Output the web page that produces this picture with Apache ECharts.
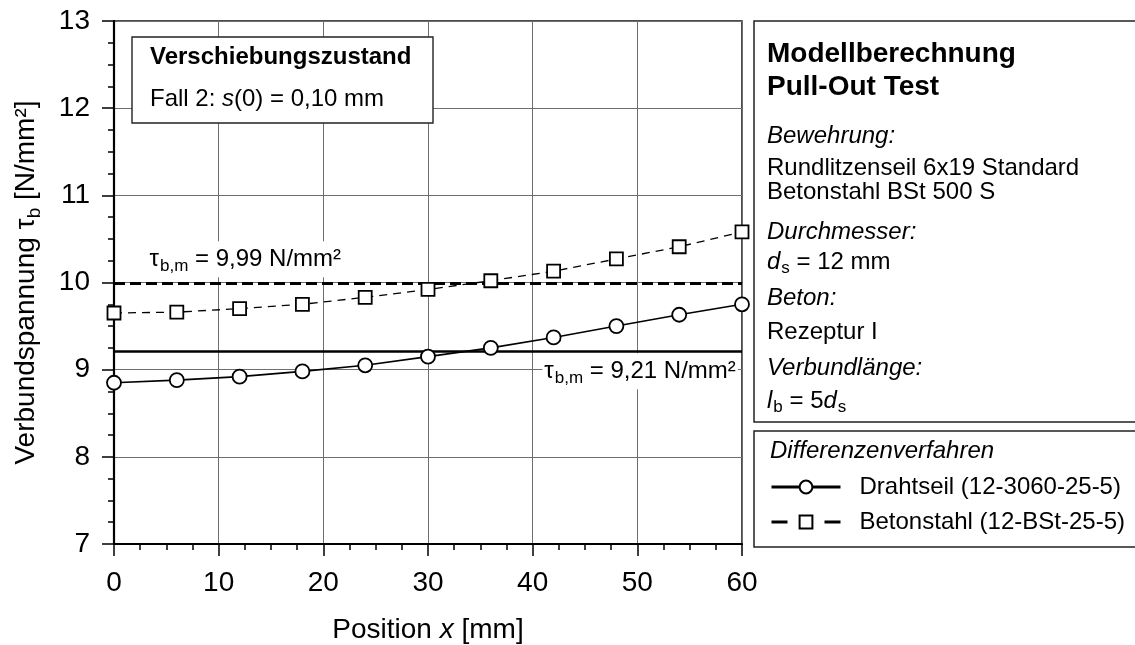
<!DOCTYPE html>
<html>
<head>
<meta charset="utf-8">
<script src="https://cdn.jsdelivr.net/npm/echarts@6/dist/echarts.min.js"></script>
<style>
  html, body { margin: 0; padding: 0; background: #fff; }
  #chart { width: 1135px; height: 645px; }
</style>
</head>
<body>
<div id="chart"></div>
<script>
// Bond stress along the embedded length (finite-difference model)
const positions  = [0, 6, 12, 18, 24, 30, 36, 42, 48, 54, 60];
const drahtseil  = [8.85, 8.88, 8.92, 8.98, 9.05, 9.15, 9.25, 9.37, 9.50, 9.63, 9.75];
const betonstahl = [9.65, 9.66, 9.70, 9.75, 9.83, 9.92, 10.02, 10.13, 10.27, 10.41, 10.58];

// Mean bond stress of each series
const meanDrahtseil  = 9.21;
const meanBetonstahl = 9.99;

// Series names
const nameDraht = 'Drahtseil (12-3060-25-5)';
const nameBeton = 'Betonstahl (12-BSt-25-5)';

const FONT = '"Liberation Sans", Arial, Helvetica, sans-serif';
const fmt = v => v.toFixed(2).replace('.', ',');
const pairs = ys => positions.map((x, i) => [x, ys[i]]);

const subRich = {
  sub: { fontFamily: FONT, fontSize: 17, color: '#000', verticalAlign: 'bottom', padding: [0, 0, 0, 1] },
  i:   { fontFamily: FONT, fontSize: 24, color: '#000', fontStyle: 'italic' }
};

const chart = echarts.init(document.getElementById('chart'), null, { renderer: 'canvas' });

const option = {
  animation: false,
  backgroundColor: '#fff',
  textStyle: { fontFamily: FONT },
  grid: {
    left: 114, top: 21, width: 628, height: 523,
    outerBoundsMode: 'none', containLabel: false,
    show: true, borderColor: '#111', borderWidth: 1.5, backgroundColor: 'transparent'
  },
  xAxis: {
    type: 'value', min: 0, max: 60, interval: 10,
    axisLine: { show: true, onZero: false, lineStyle: { color: '#000', width: 2.2 } },
    axisTick: { show: true, inside: false, length: 12, lineStyle: { color: '#000', width: 1.5 } },
    minorTick: { show: true, splitNumber: 4, length: 6, lineStyle: { color: '#000', width: 1.5 } },
    splitLine: { show: true, lineStyle: { color: '#6e6e6e', width: 1 } },
    axisLabel: { fontSize: 28, color: '#000', fontFamily: FONT, margin: 25 },
    name: 'Position {i|x} [mm]',
    nameLocation: 'middle', nameGap: 72,
    nameTextStyle: {
      fontSize: 28, color: '#000', fontFamily: FONT,
      rich: { i: { fontSize: 28, fontStyle: 'italic', color: '#000', fontFamily: FONT } }
    }
  },
  yAxis: {
    type: 'value', min: 7, max: 13, interval: 1,
    axisLine: { show: true, onZero: false, lineStyle: { color: '#000', width: 2.2 } },
    axisTick: { show: true, inside: false, length: 12, lineStyle: { color: '#000', width: 1.5 } },
    minorTick: { show: true, splitNumber: 4, length: 6, lineStyle: { color: '#000', width: 1.5 } },
    splitLine: { show: true, lineStyle: { color: '#6e6e6e', width: 1 } },
    axisLabel: { fontSize: 28, color: '#000', fontFamily: FONT, margin: 24 },
    name: 'Verbundspannung τ{sub|b} [N/mm²]',
    nameLocation: 'middle', nameGap: 70,
    nameTextStyle: {
      fontSize: 28, color: '#000', fontFamily: FONT, lineHeight: 36,
      rich: { sub: { fontSize: 19, color: '#000', fontFamily: FONT, verticalAlign: 'bottom' } }
    }
  },
  legend: {
    orient: 'vertical', left: 770, top: 475,
    itemWidth: 69, itemHeight: 16, itemGap: 11, padding: 0,
    textStyle: { fontSize: 24, color: '#000', fontFamily: FONT, lineHeight: 16, padding: [0, 0, 0, 14] },
    data: [
      { name: nameDraht, lineStyle: { width: 3, type: 'solid', color: '#000' } },
      { name: nameBeton, lineStyle: { width: 3, type: [16, 37], color: '#000' } }
    ]
  },
  series: [
    {
      name: nameDraht, type: 'line', data: pairs(drahtseil),
      symbol: 'circle', symbolSize: 14, z: 5,
      lineStyle: { color: '#000', width: 1.6 },
      itemStyle: { color: '#fff', borderColor: '#000', borderWidth: 1.8 },
      markLine: {
        silent: true, symbol: ['none', 'none'], label: { show: false },
        lineStyle: { color: '#000', width: 2.6, type: 'solid' },
        data: [{ yAxis: meanDrahtseil }]
      }
    },
    {
      name: nameBeton, type: 'line', data: pairs(betonstahl),
      symbol: 'rect', symbolSize: 13, z: 5,
      lineStyle: { color: '#000', width: 1.3, type: [8, 6] },
      itemStyle: { color: '#fff', borderColor: '#000', borderWidth: 1.8 },
      markLine: {
        silent: true, symbol: ['none', 'none'], label: { show: false },
        lineStyle: { color: '#000', width: 2.8, type: [11, 5] },
        data: [{ yAxis: meanBetonstahl }]
      }
    }
  ]
};

chart.setOption(option);

// Mean-value labels placed next to their lines
const pBeton = chart.convertToPixel({ gridIndex: 0 }, [3.2, meanBetonstahl]);
const pDraht = chart.convertToPixel({ gridIndex: 0 }, [59.6, meanDrahtseil]);

const meanLabel = (text, x, y, align, vAlign) => ({
  type: 'text', z: 50, x: x, y: y,
  style: {
    text: text, align: align, verticalAlign: vAlign,
    fontFamily: FONT, fontSize: 24, fill: '#000', lineHeight: 30,
    backgroundColor: '#fff', padding: [3, 2, 3, 2],
    rich: subRich
  }
});

// Info panel text lines
const panelX = 767;
const panelLines = [
  { y: 54,  text: 'Modellberechnung', bold: true },
  { y: 87,  text: 'Pull-Out Test', bold: true },
  { y: 136, text: 'Bewehrung:', italic: true },
  { y: 168, text: 'Rundlitzenseil 6x19 Standard' },
  { y: 192, text: 'Betonstahl BSt 500 S' },
  { y: 232, text: 'Durchmesser:', italic: true },
  { y: 262, text: '{i|d}{sub|s} = 12 mm' },
  { y: 298, text: 'Beton:', italic: true },
  { y: 332, text: 'Rezeptur I' },
  { y: 368, text: 'Verbundlänge:', italic: true },
  { y: 401, text: '{i|l}{sub|b} = 5{i|d}{sub|s}' },
  { y: 451, text: 'Differenzenverfahren', italic: true, x: 770 }
];

const graphics = [
  // Load case box
  { type: 'rect', z: 40, shape: { x: 132, y: 37, width: 301, height: 86 },
    style: { fill: '#fff', stroke: '#222', lineWidth: 1.4 } },
  { type: 'text', z: 41, x: 150, y: 57,
    style: { text: 'Verschiebungszustand', fontFamily: FONT, fontSize: 24, fontWeight: 'bold',
             fill: '#000', verticalAlign: 'middle' } },
  { type: 'text', z: 41, x: 150, y: 99,
    style: { text: 'Fall 2: {i|s}(0) = 0,10 mm', fontFamily: FONT, fontSize: 24, fill: '#000',
             verticalAlign: 'middle', lineHeight: 30, rich: subRich } },
  // Info panel and legend frame
  { type: 'rect', z: 40, shape: { x: 754, y: 21, width: 400, height: 401 },
    style: { fill: '#fff', stroke: '#222', lineWidth: 1.5 } },
  { type: 'rect', z: 40, shape: { x: 754, y: 431, width: 400, height: 116 },
    style: { fill: 'transparent', stroke: '#222', lineWidth: 1.5 } },
  meanLabel('τ{sub|b,m} = ' + fmt(meanBetonstahl) + ' N/mm²', pBeton[0], pBeton[1] - 6, 'left', 'bottom'),
  meanLabel('τ{sub|b,m} = ' + fmt(meanDrahtseil) + ' N/mm²', pDraht[0], pDraht[1] + 2, 'right', 'top')
];

panelLines.forEach(l => {
  graphics.push({
    type: 'text', z: 41, x: l.x || panelX, y: l.y,
    style: {
      text: l.text, fontFamily: FONT,
      fontSize: l.bold ? 28 : 24,
      fontWeight: l.bold ? 'bold' : 'normal',
      fontStyle: l.italic ? 'italic' : 'normal',
      fill: '#000', verticalAlign: 'middle', lineHeight: 30, rich: subRich
    }
  });
});

chart.setOption({ graphic: graphics });
</script>
</body>
</html>
